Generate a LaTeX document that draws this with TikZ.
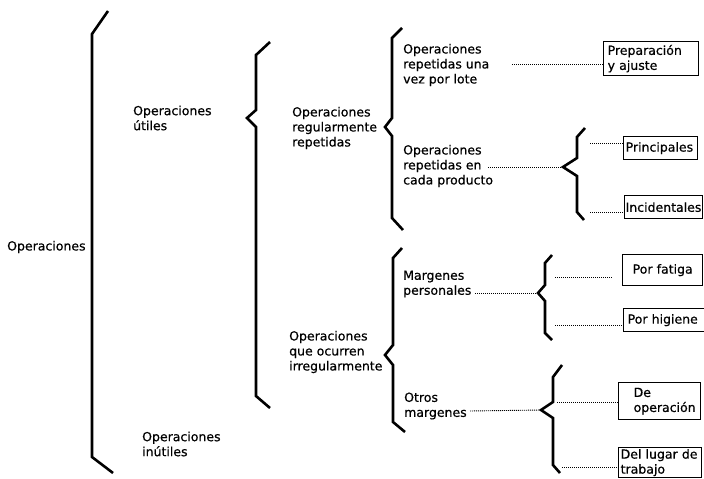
\documentclass[tikz,border=0pt]{standalone}
\usepackage{fontspec}
\setmainfont{DejaVu Sans}
\newfontfamily\diagfont[FakeBold=0.6]{DejaVu Sans}
\begin{document}
\begin{tikzpicture}[x=1pt,y=-1pt,
  lbl/.style={font=\diagfont\fontsize{12.5}{15}\selectfont, align=left, inner sep=0pt, anchor=west},
  brace/.style={line width=2.6pt, line join=miter, line cap=butt},
  dots/.style={line width=0.9pt, dash pattern=on 1pt off 1pt},
  leaf/.style={draw, line width=1.3pt, font=\diagfont\fontsize{12.5}{15}\selectfont,
    align=left, anchor=north west, inner xsep=2pt, inner ysep=0pt}]
\useasboundingbox (0,0) rectangle (704,479);

% ---- braces ----
\draw[brace] (108,11) -- (92,34) -- (92,457) -- (113,473);
\draw[brace] (270,42) -- (256,55) -- (256,110) -- (247,118) -- (256,127) -- (256,396) -- (270,408);
\draw[brace] (402,28) -- (392,38) -- (392,118) -- (385,127) -- (392,136) -- (392,218) -- (403,230);
\draw[brace] (402,248) -- (393,258) -- (393,345) -- (385,355) -- (393,365) -- (393,422) -- (405,432);
\draw[brace] (585,128) -- (577,137) -- (577,158) -- (563,167) coordinate (nA) -- (577,176) -- (577,212) -- (584,220);
\draw[brace] (552,255) -- (545,263) -- (545,285) -- (538,293) coordinate (nB) -- (545,301) -- (545,333) -- (552,340);
\draw[brace] (562,365) -- (553,377) -- (553,402) -- (541,410) coordinate (nC) -- (553,418) -- (553,465) -- (560,473);

% ---- labels ----
\node[lbl] (ops)   at (7,247)   {Operaciones};
\node[lbl] (util)  at (133,118) {Operaciones\\útiles};
\node[lbl] (inut)  at (142,444) {Operaciones\\inútiles};
\node[lbl] (reg)   at (292,128) {Operaciones\\regularmente\\repetidas};
\node[lbl] (irr)   at (289,352) {Operaciones\\que ocurren\\irregularmente};
\node[lbl] (lote)  at (403,65)  {Operaciones\\repetidas una\\vez por lote};
\node[lbl] (prod)  at (403,166) {Operaciones\\repetidas en\\cada producto};
\node[lbl] (pers)  at (403,284) {Margenes\\personales};
\node[lbl] (otros) at (404,406) {Otros\\margenes};

% ---- leaf boxes ----
\node[leaf, minimum width=95pt, minimum height=34pt, text width=91pt] (prep) at (603,41) {\hspace*{2pt}Preparación\\\hspace*{2pt}y ajuste};
\node[leaf, minimum width=74pt, minimum height=23pt, text width=70pt] (princ) at (623,136) {Principales};
\node[leaf, minimum width=78pt, minimum height=23pt, text width=76pt, inner xsep=1pt] (incid) at (624,195) {Incidentales};
\node[leaf, minimum width=80pt, minimum height=31pt, text width=76pt] (fat) at (622,254) {\hspace*{8pt}Por fatiga};
\node[leaf, minimum width=81pt, minimum height=23pt, text width=77pt] (hig) at (623,308) {\hspace*{2pt}Por higiene};
\node[leaf, minimum width=82pt, minimum height=37pt, text width=78pt] (deop) at (618,382) {\hspace*{13pt}De\\\hspace*{13pt}operación};
\node[leaf, minimum width=83pt, minimum height=30pt, text width=79pt] (lugar) at (618,447) {Del lugar de\\trabajo};

% ---- dotted connectors ----
\coordinate (s1) at (512,64);
\coordinate (s2) at (488,167);
\coordinate (s3) at (590,143);
\coordinate (s4) at (590,212);
\coordinate (s5) at (475,293);
\coordinate (s6) at (555,277);
\coordinate (e6) at (612,277);
\coordinate (s7) at (555,325);
\coordinate (s8) at (470,411);
\coordinate (s9) at (557,402);
\coordinate (s10) at (562,467);

\draw[dots] (s1) -- (s1 -| prep.west);
\draw[dots] (s2) -- (nA);
\draw[dots] (s3) -- (s3 -| princ.west);
\draw[dots] (s4) -- (s4 -| incid.west);
\draw[dots] (s5) -- (nB);
\draw[dots] (s6) -- (e6);
\draw[dots] (s7) -- (s7 -| hig.west);
\draw[dots] (s8) -- (nC);
\draw[dots] (s9) -- (s9 -| deop.west);
\draw[dots] (s10) -- (s10 -| lugar.west);
\end{tikzpicture}
\end{document}
